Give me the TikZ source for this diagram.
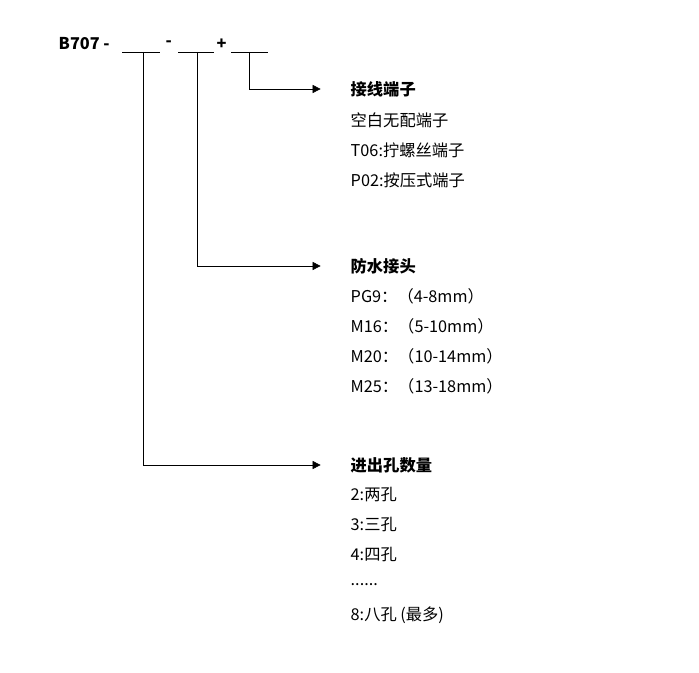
\documentclass[tikz,border=0pt]{standalone}
\usepackage{fontspec}
\setmainfont{Noto Sans CJK SC}
\usetikzlibrary{arrows.meta}
\begin{document}
\begin{tikzpicture}[x=0.75pt,y=-0.75pt,font=\fontsize{12.2}{14}\selectfont,
  head/.style={anchor=west,font=\fontsize{12.2}{14}\selectfont\bfseries},
  item/.style={anchor=west},
  lead/.style={thin,-{Triangle[length=6pt,width=6pt]}}]
	\useasboundingbox (0,0) rectangle (699,673);
	% code line
	\node [head] (code) at (54,44) {B707 -};
	\node [head] (m1) at (161,44) {-};
	\node [head] (p1) at (212,44) {+};
	\draw (122,52) -- (160,52);
	\draw (178,52) -- (214,52);
	\draw (231,52) -- (268,52);
	\node [coordinate] (b1) at (143,52) {};
	\node [coordinate] (b2) at (197,52) {};
	\node [coordinate] (b3) at (249,52) {};
	% terminals
	\node [head] (t0) at (346,89) {接线端子};
	\node [item] (t1) at (346,120) {空白无配端子};
	\node [item] (t2) at (346,150) {T06:拧螺丝端子};
	\node [item] (t3) at (346,180) {P02:按压式端子};
	% glands
	\node [head] (g0) at (346,266) {防水接头};
	\node [item] (g1) at (346,296) {PG9：（4-8mm）};
	\node [item] (g2) at (346,326) {M16：（5-10mm）};
	\node [item] (g3) at (346,356) {M20：（10-14mm）};
	\node [item] (g4) at (346,386) {M25：（13-18mm）};
	% holes
	\node [head] (h0) at (346,465) {进出孔数量};
	\node [item] (h1) at (346,495) {2:两孔};
	\node [item] (h2) at (346,525) {3:三孔};
	\node [item] (h3) at (346,555) {4:四孔};
	\node [item] (h4) at (346,585) {......};
	\node [item] (h5) at (346,615) {8:八孔 (最多)};
	\draw [lead] (b3) |- ([xshift=-19pt]t0.west);
	\draw [lead] (b2) |- ([xshift=-19pt]g0.west);
	\draw [lead] (b1) |- ([xshift=-19pt]h0.west);
\end{tikzpicture}
\end{document}
